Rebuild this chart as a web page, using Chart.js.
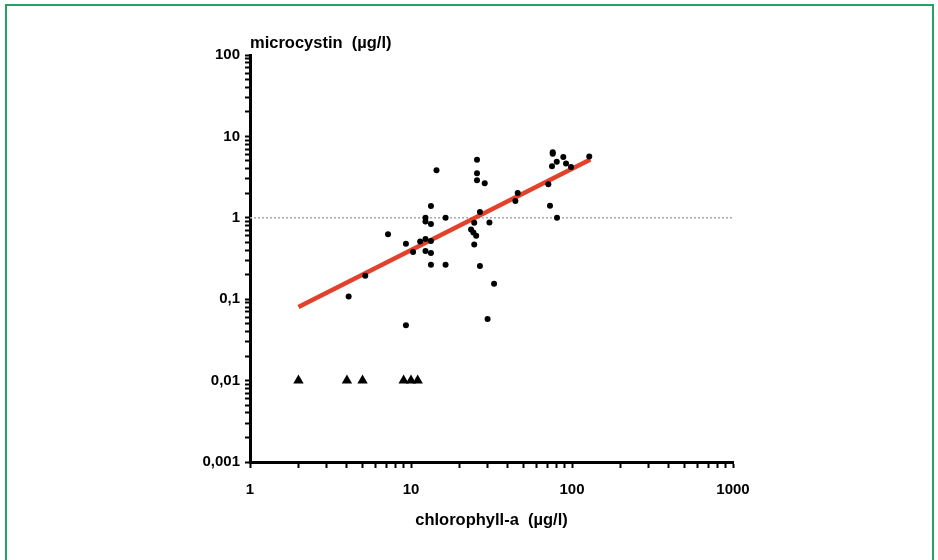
<!DOCTYPE html>
<html>
<head>
<meta charset="utf-8">
<script src="https://cdn.jsdelivr.net/npm/chart.js@4.4.1/dist/chart.umd.min.js"></script>
<style>
  html, body { margin: 0; padding: 0; background: #ffffff; }
  #wrap { position: relative; width: 938px; height: 560px; overflow: hidden; background: #ffffff; }
  #c { position: absolute; left: 0; top: 0; }
  #frame { position: absolute; left: 5px; top: 4px; width: 925px; height: 620px;
           border: 2px solid #1fa463; pointer-events: none; }
</style>
</head>
<body>
<div id="wrap">
  <canvas id="c" width="938" height="560"></canvas>
  <div id="frame"></div>
</div>
<script>
// ---- data ----
const chlorophyllDots = [7.2, 9.3, 10.3, 11.4, 12.3, 12.3, 5.2, 4.1, 9.3, 12.3, 12.3, 13.3, 13.3, 13.3, 13.3, 13.3,
  14.4, 16.4, 16.4, 25.7, 25.7, 25.7, 28.7, 26.8, 24.7, 30.7, 23.6, 24.4, 25.4, 24.7, 26.8, 32.8, 29.9,
  44.5, 46, 75.9, 75.9, 75.1, 80.4, 88.3, 91.8, 98.6, 128, 71.3, 73, 80.7];
const microcystinDots = [0.63, 0.48, 0.38, 0.51, 0.55, 0.39, 0.194, 0.108, 0.048, 1.0, 0.9, 1.4, 0.84, 0.52, 0.37, 0.265,
  3.84, 1.0, 0.265, 5.15, 3.52, 2.89, 2.65, 1.18, 0.87, 0.875, 0.72, 0.66, 0.6, 0.47, 0.255, 0.155, 0.057,
  1.61, 2.02, 6.4, 6.1, 4.3, 4.87, 5.6, 4.64, 4.22, 5.66, 2.58, 1.41, 1.0];
const chlorophyllBelowDetection = [2, 4, 5, 9, 10, 11];
const microcystinBelowDetection = [0.01, 0.01, 0.01, 0.01, 0.01, 0.01];
const regressionX = [2, 130];
const regressionY = [0.08, 5.2];
const thresholdX = [1, 1000];
const thresholdY = [1, 1];
const xTickValues = [1, 10, 100, 1000];
const xTickLabels = ['1', '10', '100', '1000'];
const yTickValues = [0.001, 0.01, 0.1, 1, 10, 100];
const yTickLabels = ['0,001', '0,01', '0,1', '1', '10', '100'];
const xTitle = 'chlorophyll-a  (µg/l)';
const yTitle = 'microcystin  (µg/l)';

// ---- helpers ----
const pairs = (xs, ys) => xs.map((x, i) => ({ x: x, y: ys[i] }));
function logTicks(min, max) {
  const out = [];
  const e0 = Math.round(Math.log10(min)), e1 = Math.round(Math.log10(max));
  for (let e = e0; e < e1; e++) {
    for (let m = 1; m <= 9; m++) out.push({ value: parseFloat((m * Math.pow(10, e)).toPrecision(6)) });
  }
  out.push({ value: max });
  return out;
}
function labelFor(values, labels, v) {
  for (let i = 0; i < values.length; i++) {
    if (Math.abs(Math.log10(values[i]) - Math.log10(v)) < 1e-6) return labels[i];
  }
  return '';
}

const FONT = "'Liberation Sans', Arial, Helvetica, sans-serif";

new Chart(document.getElementById('c'), {
  type: 'scatter',
  data: {
    datasets: [
      {
        label: 'samples',
        data: pairs(chlorophyllDots, microcystinDots),
        pointStyle: 'circle',
        pointRadius: 3,
        backgroundColor: '#000000',
        borderColor: '#000000',
        borderWidth: 0,
        order: 0
      },
      {
        label: 'below detection',
        data: pairs(chlorophyllBelowDetection, microcystinBelowDetection),
        pointStyle: 'triangle',
        pointRadius: 6,
        backgroundColor: '#000000',
        borderColor: '#000000',
        borderWidth: 0,
        order: 0
      },
      {
        label: 'regression',
        type: 'line',
        data: pairs(regressionX, regressionY),
        borderColor: '#e4412b',
        borderWidth: 4.5,
        pointRadius: 0,
        fill: false,
        order: 1
      },
      {
        label: 'threshold',
        type: 'line',
        data: pairs(thresholdX, thresholdY),
        borderColor: '#a8a8a8',
        borderWidth: 1.5,
        borderDash: [2, 2],
        pointRadius: 0,
        fill: false,
        order: 2
      }
    ]
  },
  options: {
    responsive: false,
    animation: false,
    events: [],
    layout: { padding: { left: 0, right: 205, top: 10, bottom: 23 } },
    plugins: {
      legend: { display: false },
      tooltip: { enabled: false },
      title: {
        display: true,
        text: yTitle,
        align: 'start',
        fullSize: false,
        color: '#000000',
        font: { family: FONT, size: 16.5, weight: 'bold' },
        padding: { top: 24, bottom: 1.2 }
      }
    },
    scales: {
      x: {
        type: 'logarithmic',
        min: 1,
        max: 1000,
        afterBuildTicks: (s) => { s.ticks = logTicks(1, 1000); },
        afterFit: (s) => { s.height = 75; },
        border: { display: true, color: '#000000', width: 3 },
        grid: { display: true, drawOnChartArea: false, drawTicks: true, tickLength: 6, tickColor: '#000000', tickWidth: 2 },
        ticks: {
          autoSkip: false,
          maxRotation: 0,
          padding: 13,
          color: '#000000',
          font: { family: FONT, size: 15, weight: 'bold' },
          callback: (v) => labelFor(xTickValues, xTickLabels, v)
        },
        title: {
          display: true,
          text: xTitle,
          color: '#000000',
          font: { family: FONT, size: 16.5, weight: 'bold' },
          padding: { top: 0, bottom: 7 }
        }
      },
      y: {
        type: 'logarithmic',
        min: 0.001,
        max: 100,
        afterBuildTicks: (s) => { s.ticks = logTicks(0.001, 100); },
        afterFit: (s) => { s.width = 250; },
        border: { display: true, color: '#000000', width: 3 },
        grid: { display: true, drawOnChartArea: false, drawTicks: true, tickLength: 5, tickColor: '#000000', tickWidth: 2 },
        ticks: {
          autoSkip: false,
          padding: 5,
          color: '#000000',
          font: { family: FONT, size: 15, weight: 'bold' },
          callback: (v) => labelFor(yTickValues, yTickLabels, v)
        }
      }
    }
  }
});
</script>
</body>
</html>
